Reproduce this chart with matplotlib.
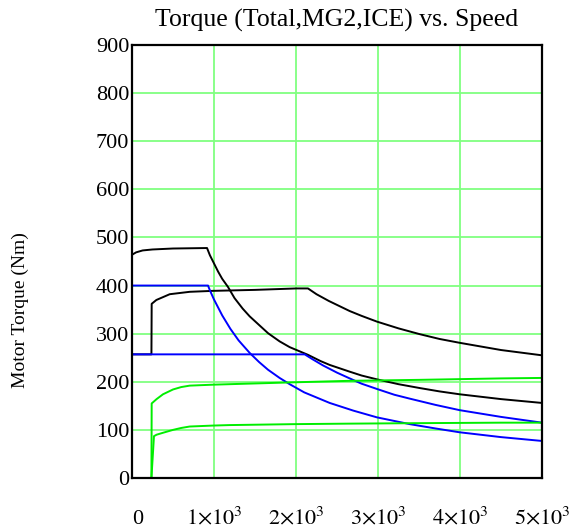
import numpy as np
import matplotlib
matplotlib.use('Agg')
import matplotlib.pyplot as plt
import matplotlib.transforms as mtransforms

plt.rcParams['font.family'] = ['Liberation Serif', 'DejaVu Serif']
plt.rcParams['mathtext.fontset'] = 'stix'

# total torque, first ratio
total_1_rpm = [0, 50, 130, 250, 500, 915, 950, 1000, 1050, 1100, 1171, 1250, 1350, 1435, 1550, 1659,
               1800, 1923, 2146, 2300, 2411, 2655, 2800, 2988, 3250, 3508, 3750, 3996, 4500, 5000]
total_1_nm = [464, 469, 473, 475, 477, 478, 463, 446, 429, 414, 397, 374, 352, 336, 318, 301,
              284, 272, 256, 243, 235, 221, 213, 205, 195, 187, 180, 174, 164, 156]

# total torque, second ratio
total_2_rpm = [0, 237, 240, 297, 460, 704, 992, 1500, 2005, 2146, 2250, 2400, 2655, 2800, 2988,
               3250, 3508, 3750, 3996, 4500, 5000]
total_2_nm = [257, 257, 362, 370, 382, 387, 389, 391, 394, 394, 382, 368, 347, 337, 325,
              311, 299, 289, 281, 266, 255]

# MG2 torque
mg2_1_rpm = [0, 927, 950, 1000, 1100, 1200, 1300, 1435, 1550, 1659, 1800, 1923, 2100, 2411, 2700,
             2988, 3386, 3700, 3996, 4500, 5000]
mg2_1_nm = [400, 400, 390, 371, 338, 310, 286, 260, 241, 225, 208, 195, 178, 156, 140,
            126, 112, 103, 95, 85, 77]

mg2_2_rpm = [0, 2106, 2200, 2329, 2500, 2655, 2800, 2988, 3200, 3386, 3700, 3996, 4500, 5000]
mg2_2_nm = [257, 257, 247, 234, 219, 207, 196, 185, 173, 165, 152, 141, 127, 115]

# ICE torque
ice_1_rpm = [0, 237, 240, 300, 378, 500, 600, 704, 992, 1191, 2000, 2655, 3500, 4500, 5000]
ice_1_nm = [0, 0, 155, 164, 174, 184, 189, 192, 194, 195, 199, 202, 204, 207, 208]

ice_2_rpm = [0, 237, 268, 300, 378, 500, 600, 704, 992, 1191, 2000, 2655, 3500, 4500, 5000]
ice_2_nm = [0, 0, 87, 90, 94, 100, 104, 107, 109, 110, 112, 113, 114, 115, 115]

x_ticks = [0, 1000, 2000, 3000, 4000, 5000]
x_tick_labels = ['0', r'$1{\times}10^{3}$', r'$2{\times}10^{3}$', r'$3{\times}10^{3}$',
                 r'$4{\times}10^{3}$', r'$5{\times}10^{3}$']
y_ticks = [0, 100, 200, 300, 400, 500, 600, 700, 800, 900]

fig = plt.figure(figsize=(5.77, 5.32), dpi=100)
ax = fig.add_axes([132 / 577, 1 - 478 / 532, 410 / 577, 433 / 532])

lw = 1.4
ax.plot(total_1_rpm, total_1_nm, color='black', lw=lw)
ax.plot(total_2_rpm, total_2_nm, color='black', lw=lw)
ax.plot(mg2_1_rpm, mg2_1_nm, color='#0000ff', lw=lw)
ax.plot(mg2_2_rpm, mg2_2_nm, color='#0000ff', lw=lw)
ax.plot(ice_1_rpm, ice_1_nm, color='#00ee00', lw=lw)
ax.plot(ice_2_rpm, ice_2_nm, color='#00ee00', lw=lw)

ax.set_xlim(0, 5000)
ax.set_ylim(0, 900)
ax.set_xticks(x_ticks)
ax.set_xticklabels(x_tick_labels)
ax.set_yticks(y_ticks)
ax.grid(True, color='#80ff80', lw=1.3)
ax.set_axisbelow(True)
ax.tick_params(axis='both', length=0, labelsize=16)
ax.tick_params(axis='x', pad=33)
ax.tick_params(axis='y', pad=2)
for lbl in ax.get_xticklabels():
    lbl.set_va('baseline')
# nudge the "0" label a little to the right
zero_lbl = ax.get_xticklabels()[0]
zero_lbl.set_transform(zero_lbl.get_transform() +
                       mtransforms.ScaledTranslation(6 / 100, 0, fig.dpi_scale_trans))
for sp in ax.spines.values():
    sp.set_linewidth(1.6)

fig.text(337 / 577, 1 - 20 / 532, 'Torque (Total,MG2,ICE) vs. Speed',
         ha='center', va='center', fontsize=18.5)
fig.text(20 / 577, 1 - 310 / 532, 'Motor Torque (Nm)', rotation=90,
         ha='center', va='center', fontsize=14)

fig.savefig('out.png', dpi=100)
